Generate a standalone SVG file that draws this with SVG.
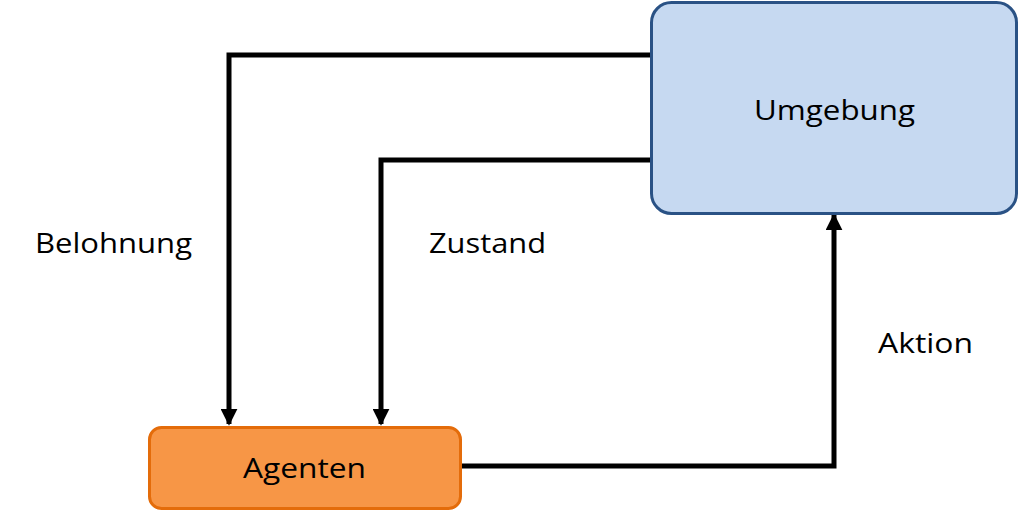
<svg xmlns="http://www.w3.org/2000/svg" width="1019" height="513" viewBox="0 0 1019 513">
<style>
text{font-family:"Open Sans","Liberation Sans",sans-serif;font-size:28px;fill:#000}
.c{fill:none;stroke:#000;stroke-width:5;stroke-linejoin:miter}
</style>
<defs>
<marker id="ah" viewBox="0 0 10 10" refX="9" refY="5" markerWidth="3.4" markerHeight="3.4" orient="auto" markerUnits="strokeWidth">
<path d="M0,0L10,5L0,10z" fill="#000"/>
</marker>
</defs>
<rect width="1019" height="513" fill="#fff"/>
<g id="connectors">
<path class="c" d="M651,55H229V424" marker-end="url(#ah)"/>
<path class="c" d="M651,160H381V424" marker-end="url(#ah)"/>
<path class="c" d="M461,466H834V215" marker-end="url(#ah)"/>
</g>
<g id="umgebung">
<rect x="651.5" y="2.5" width="365" height="211" rx="20" fill="#C6D9F1" stroke="#2A5285" stroke-width="3"/>
<text x="754" y="120" textLength="161" lengthAdjust="spacingAndGlyphs">Umgebung</text>
</g>
<g id="agenten">
<rect x="149.5" y="427.5" width="311" height="81" rx="12" fill="#F79646" stroke="#E46C0A" stroke-width="3"/>
<text x="243" y="478" textLength="123" lengthAdjust="spacingAndGlyphs">Agenten</text>
</g>
<g id="labels">
<text x="35" y="253" textLength="157" lengthAdjust="spacingAndGlyphs">Belohnung</text>
<text x="429" y="253" textLength="117" lengthAdjust="spacingAndGlyphs">Zustand</text>
<text x="878" y="353" textLength="95" lengthAdjust="spacingAndGlyphs">Aktion</text>
</g>
</svg>
